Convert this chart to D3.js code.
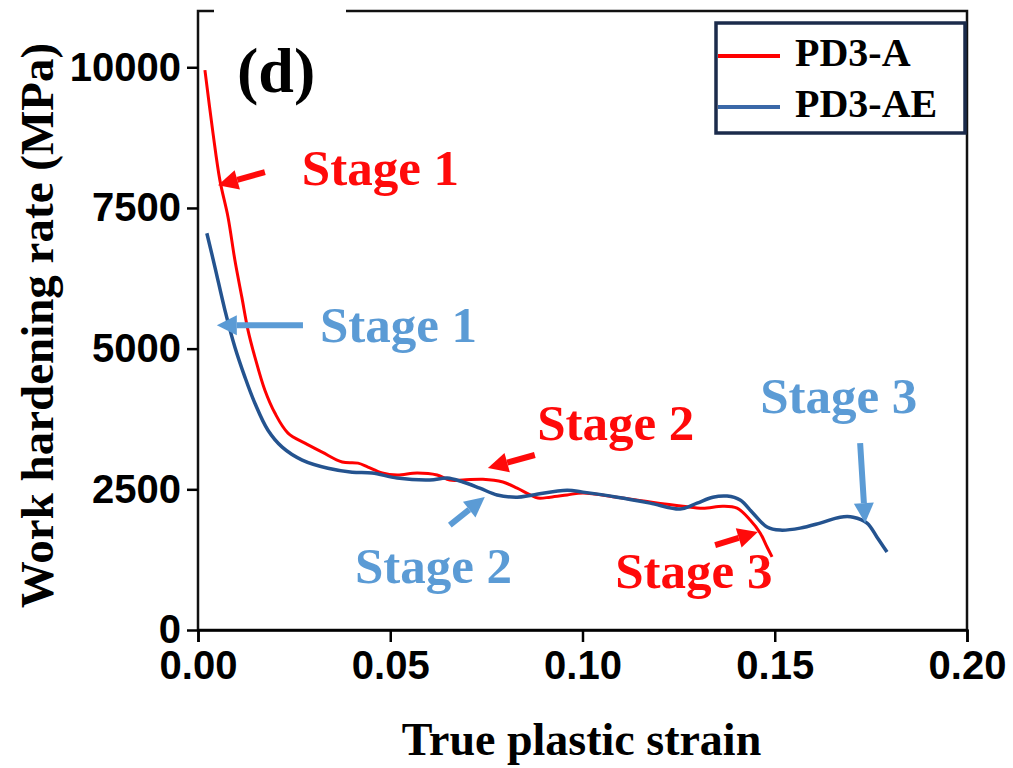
<!DOCTYPE html>
<html lang="en">
<head>
    <meta charset="UTF-8">
    <title>Work hardening rate</title>
    <script src="https://d3js.org/d3.v7.min.js"></script>
    <style>
        body { margin: 0; background: white; }
        .tick-label { font-family: "Liberation Sans", Arial, sans-serif; font-weight: bold; font-size: 40px; }
        .serif { font-family: "Liberation Serif", "Times New Roman", serif; font-weight: bold; }
    </style>
</head>
<body>
<div id="chart"></div>
<script>
    // PD3-A curve (true plastic strain, work hardening rate MPa)
    const strainA = [0.0018, 0.0039, 0.0057, 0.0078, 0.0096, 0.0114, 0.0130, 0.0148, 0.0174, 0.0200,
        0.0234, 0.0278, 0.0323, 0.0375, 0.0416, 0.0442, 0.0479, 0.0518, 0.0570, 0.0622,
        0.0655, 0.0689, 0.0741, 0.0793, 0.0830, 0.0864, 0.0884, 0.0916, 0.0960, 0.1001,
        0.1090, 0.1176, 0.1261, 0.1313, 0.1365, 0.1402, 0.1436, 0.1462, 0.1480, 0.1493];
    const rateA = [9950, 8830, 7990, 7340, 6570, 5915, 5330, 4850, 4260, 3855,
        3500, 3320, 3160, 2985, 2965, 2895, 2790, 2755, 2790, 2755,
        2665, 2665, 2680, 2630, 2520, 2400, 2345, 2360, 2400, 2435,
        2360, 2275, 2200, 2165, 2200, 2165, 1955, 1725, 1475, 1300];

    // PD3-AE curve
    const strainAE = [0.0023, 0.0044, 0.0070, 0.0096, 0.0122, 0.0148, 0.0182, 0.0219, 0.0271, 0.0338,
        0.0401, 0.0453, 0.0518, 0.0603, 0.0648, 0.0689, 0.0733, 0.0778, 0.0830, 0.0871,
        0.0960, 0.1001, 0.1090, 0.1176, 0.1254, 0.1298, 0.1339, 0.1376, 0.1410, 0.1443,
        0.1480, 0.1514, 0.1566, 0.1618, 0.1670, 0.1704, 0.1740, 0.1766, 0.1792];
    const rateAE = [7050, 6450, 5685, 5025, 4495, 4030, 3550, 3250, 3020, 2875,
        2805, 2790, 2700, 2665, 2700, 2630, 2520, 2400, 2360, 2400,
        2485, 2450, 2360, 2255, 2150, 2255, 2360, 2380, 2310, 2080,
        1830, 1775, 1810, 1900, 2005, 2005, 1900, 1650, 1385];

    const seriesNames = ["PD3-A", "PD3-AE"];
    const xTicks = [0, 0.05, 0.10, 0.15, 0.20];
    const yTicks = [0, 2500, 5000, 7500, 10000];

    // annotation labels: [text series, x, y] and arrows [tail x, tail y, tip x, tip y]
    const stageLabels = ["Stage 1", "Stage 1", "Stage 2", "Stage 2", "Stage 3", "Stage 3"];
    const stageSeries = [0, 1, 0, 1, 0, 1];
    const stageX = [0.0270, 0.0317, 0.0882, 0.0408, 0.1085, 0.1462];
    const stageY = [7900, 5115, 3375, 835, 745, 3855];
    const arrowTail = [[0.0174, 8135], [0.0273, 5417], [0.0876, 3110], [0.0655, 1865], [0.1345, 1510], [0.1722, 3320]];
    const arrowTip = [[0.0052, 7905], [0.0049, 5417], [0.0754, 2877], [0.0746, 2362], [0.1456, 1740], [0.1735, 1900]];

    const width = 1013, height = 768;
    const margin = { top: 11, left: 198, right: 46, bottom: 138 };
    const lineColors = ["#ff0000", "#24538f"];
    const textColors = ["#ff0a0a", "#5b9bd5"];

    const svg = d3.select("#chart").append("svg")
        .attr("width", width)
        .attr("height", height);

    const x = d3.scaleLinear().domain([0, 0.2]).range([margin.left, width - margin.right]);
    const y = d3.scaleLinear().domain([0, 11000]).range([height - margin.bottom, margin.top]);

    // curves
    const line = d3.line()
        .x(d => x(d[0]))
        .y(d => y(d[1]))
        .curve(d3.curveCatmullRom.alpha(0.5));

    const dataA = strainA.map((s, i) => [s, rateA[i]]);
    const dataAE = strainAE.map((s, i) => [s, rateAE[i]]);

    svg.append("path").datum(dataA)
        .attr("d", line)
        .attr("fill", "none")
        .attr("stroke", lineColors[0])
        .attr("stroke-width", 3);

    svg.append("path").datum(dataAE)
        .attr("d", line)
        .attr("fill", "none")
        .attr("stroke", lineColors[1])
        .attr("stroke-width", 3.5);

    // frame
    const x0 = x(0), x1 = x(0.2), y0 = y(0), y1 = y(11000);
    svg.append("rect")
        .attr("x", x0).attr("y", y1)
        .attr("width", x1 - x0).attr("height", y0 - y1)
        .attr("fill", "none")
        .attr("stroke", "#111")
        .attr("stroke-width", 2.5);

    // axes with minor ticks
    const xAxis = svg.append("g").attr("transform", `translate(0,${y0})`);
    xAxis.call(d3.axisBottom(x).tickValues(d3.range(0, 0.2001, 0.025)).tickSize(7).tickFormat(""))
        .call(g => g.select(".domain").remove());
    xAxis.call(d3.axisBottom(x).tickValues(xTicks).tickSize(12).tickPadding(6).tickFormat(d3.format(".2f")))
        .call(g => g.select(".domain").attr("stroke-width", 2.5))
        .call(g => g.selectAll(".tick text").attr("class", "tick-label").attr("fill", "#000").attr("dy", "0.78em"));
    xAxis.selectAll("line").attr("stroke-width", 2.5);

    const yAxis = svg.append("g").attr("transform", `translate(${x0},0)`);
    yAxis.call(d3.axisLeft(y).tickValues(d3.range(0, 10001, 1250)).tickSize(6).tickFormat(""))
        .call(g => g.select(".domain").remove());
    yAxis.call(d3.axisLeft(y).tickValues(yTicks).tickSize(11).tickPadding(6).tickFormat(d3.format("d")))
        .call(g => g.select(".domain").remove())
        .call(g => g.selectAll(".tick text").attr("class", "tick-label").attr("fill", "#000"));
    yAxis.selectAll("line").attr("stroke-width", 2.5);

    // gap in top border behind panel label
    svg.append("rect").attr("x", 214).attr("y", y1 - 3).attr("width", 132).attr("height", 6).attr("fill", "white");

    // panel label
    svg.append("text").attr("class", "serif")
        .attr("x", 237).attr("y", 92)
        .attr("font-size", 64)
        .text("(d)");

    // axis titles
    svg.append("text").attr("class", "serif")
        .attr("x", (x0 + x1) / 2 - 1).attr("y", 755)
        .attr("text-anchor", "middle")
        .attr("font-size", 46)
        .text("True plastic strain");

    svg.append("text").attr("class", "serif")
        .attr("transform", `translate(53,${(y0 + y1) / 2 + 5}) rotate(-90)`)
        .attr("text-anchor", "middle")
        .attr("font-size", 47)
        .text("Work hardening rate (MPa)");

    // stage annotations
    stageLabels.forEach((t, i) => {
        svg.append("text").attr("class", "serif")
            .attr("x", x(stageX[i])).attr("y", y(stageY[i]))
            .attr("font-size", 51)
            .attr("fill", textColors[stageSeries[i]])
            .text(t);
    });

    function drawArrow(tail, tip, color) {
        const tx = x(tail[0]), ty = y(tail[1]), hx = x(tip[0]), hy = y(tip[1]);
        const ang = Math.atan2(hy - ty, hx - tx);
        const headLen = 20, headW = 10;
        const bx = hx - headLen * Math.cos(ang), by = hy - headLen * Math.sin(ang);
        svg.append("line")
            .attr("x1", tx).attr("y1", ty).attr("x2", bx).attr("y2", by)
            .attr("stroke", color).attr("stroke-width", 6);
        const px = -Math.sin(ang) * headW, py = Math.cos(ang) * headW;
        svg.append("polygon")
            .attr("points", [[hx, hy], [bx + px, by + py], [bx - px, by - py]].map(p => p.join(",")).join(" "))
            .attr("fill", color);
    }
    arrowTail.forEach((t, i) => drawArrow(t, arrowTip[i], textColors[stageSeries[i]]));

    // legend
    const legend = svg.append("g");
    legend.append("rect")
        .attr("x", 716).attr("y", 23).attr("width", 249).attr("height", 110)
        .attr("fill", "white").attr("stroke", "#1b2b4b").attr("stroke-width", 3.5);
    seriesNames.forEach((name, i) => {
        const ly = 56 + i * 51;
        legend.append("line")
            .attr("x1", 718).attr("x2", 780).attr("y1", ly).attr("y2", ly)
            .attr("stroke", i === 0 ? lineColors[0] : "#3a68a8").attr("stroke-width", 4);
        legend.append("text").attr("class", "serif")
            .attr("x", 795).attr("y", ly + 10)
            .attr("font-size", 40)
            .text(name);
    });
</script>
</body>
</html>
